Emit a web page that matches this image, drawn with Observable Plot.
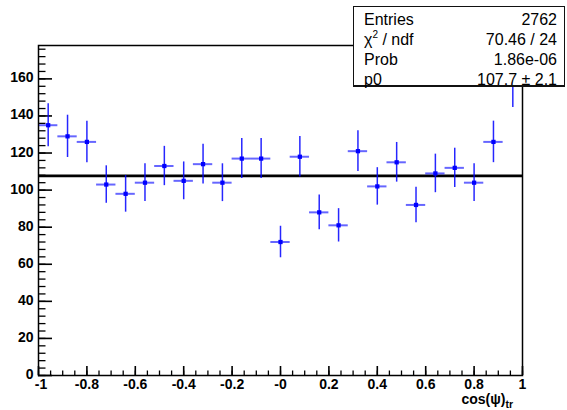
<!DOCTYPE html>
<html>
<head>
<meta charset="utf-8">
<script src="https://cdn.jsdelivr.net/npm/d3@7"></script>
<script src="https://cdn.jsdelivr.net/npm/@observablehq/plot@0.6"></script>
<style>
  html, body { margin: 0; padding: 0; background: #fff; }
  #wrap { position: relative; width: 567px; height: 410px; overflow: hidden; }
  #stats {
    position: absolute; left: 353px; top: 6px; width: 212px; height: 81px;
    box-sizing: border-box; border: 1px solid #111; border-bottom-width: 2px;
    background: #fff; font-family: "Liberation Sans", Arial, sans-serif;
    font-size: 16px; line-height: 20px; padding: 3px 7px 0 10px; color: #000;
  }
  #stats .row { display: flex; justify-content: space-between; }
  #stats sup { font-size: 10px; line-height: 0; position: relative; top: -1px; }
</style>
</head>
<body>
<div id="wrap"></div>
<script>
// ---- data ----
const binEdges = [-1, -0.92, -0.84, -0.76, -0.68, -0.6, -0.52, -0.44, -0.36, -0.28, -0.2, -0.12, -0.04,
                  0.04, 0.12, 0.2, 0.28, 0.36, 0.44, 0.52, 0.6, 0.68, 0.76, 0.84, 0.92, 1];
const counts = [135, 129, 126, 103, 98, 104, 113, 105, 114, 104, 117, 117, 72,
                118, 88, 81, 121, 102, 115, 92, 109, 112, 104, 126, 157];
const errors = [11.6, 11.4, 11.2, 10.1, 9.9, 10.2, 10.6, 10.2, 10.7, 10.2, 10.8, 10.8, 8.5,
                10.9, 9.4, 9.0, 11.0, 10.1, 10.7, 9.6, 10.4, 10.6, 10.2, 11.2, 12.5];
const fitP0 = 107.7;
const xDomain = [-1, 1];
const yDomain = [0, 178];
const xTicks = [-1, -0.8, -0.6, -0.4, -0.2, 0, 0.2, 0.4, 0.6, 0.8, 1];
const xTickLabels = ["-1", "-0.8", "-0.6", "-0.4", "-0.2", "-0", "0.2", "0.4", "0.6", "0.8", "1"];
const yTicks = [0, 20, 40, 60, 80, 100, 120, 140, 160];
const yTickLabels = ["0", "20", "40", "60", "80", "100", "120", "140", "160"];
const statLabels = ["Entries", "χ<sup>2</sup> / ndf", "Prob", "p0"];
const statValues = ["2762", "70.46 / 24", "1.86e-06", "107.7 ± 2.1"];
const xTitle = "cos(ψ)";
const xTitleSub = "tr";

// ---- derived table ----
const data = counts.map((c, i) => ({
  lo: binEdges[i], hi: binEdges[i + 1],
  center: (binEdges[i] + binEdges[i + 1]) / 2,
  count: c, err: errors[i]
}));
const xMinor = d3.range(-1, 1.0001, 0.05).map(v => +v.toFixed(2));
const yMinor = d3.range(0, 178, 4);

const font = "'Liberation Sans', Arial, sans-serif";
const fmtX = d => xTickLabels[xTicks.indexOf(d)];

const chart = Plot.plot({
  width: 567, height: 410,
  marginLeft: 38, marginRight: 45, marginTop: 45, marginBottom: 35,
  style: { fontFamily: font, fontSize: "14px", fontWeight: "bold", background: "#fff", color: "#000" },
  x: { domain: xDomain, axis: null },
  y: { domain: yDomain, axis: null },
  marks: [
    // minor ticks (drawn inward)
    Plot.axisY(yMinor, { tickSize: 7.5, dx: 7.5, fill: "none", label: null, strokeWidth: 1.3 }),
    Plot.axisX(xMinor, { tickSize: 4.5, dy: -4.5, fill: "none", label: null, strokeWidth: 1.3 }),
    // major ticks
    Plot.axisY(yTicks, { tickSize: 14, dx: 14, fill: "none", label: null, strokeWidth: 1.6 }),
    Plot.axisX(xTicks, { tickSize: 9, dy: -9, fill: "none", label: null, strokeWidth: 1.6 }),
    // tick labels
    Plot.axisY(yTicks, { tickSize: 0, tickPadding: 5, dy: -1, label: null,
      tickFormat: d => yTickLabels[yTicks.indexOf(d)] }),
    Plot.axisX(xTicks.slice(0, 1), { tickSize: 0, tickPadding: 4, dx: 2.5, label: null, tickFormat: fmtX }),
    Plot.axisX(xTicks.slice(1), { tickSize: 0, tickPadding: 4, label: null, tickFormat: fmtX }),
    // fit line
    Plot.ruleY([fitP0], { stroke: "#000", strokeWidth: 2.6 }),
    // horizontal bin-width bars
    Plot.ruleY(data, { y: "count", x1: "lo", x2: "hi", stroke: "blue", strokeOpacity: 0.6, strokeWidth: 2 }),
    // vertical error bars
    Plot.ruleX(data, { x: "center", y1: d => d.count - d.err, y2: d => d.count + d.err,
      stroke: "blue", strokeOpacity: 0.85, strokeWidth: 1.5 }),
    // markers
    Plot.dot(data, { x: "center", y: "count", symbol: "square", r: 2.4, fill: "blue", stroke: "none" }),
    Plot.frame({ stroke: "#000", strokeWidth: 1.5 })
  ]
});

const wrap = document.getElementById("wrap");
wrap.appendChild(chart);

// axis title with subscript, anchored at right end of x scale
const xs = chart.scale("x");
const ys = chart.scale("y");
const svg = d3.select(chart);
const t = svg.append("text")
  .attr("x", xs.apply(xDomain[1]) - 9)
  .attr("y", ys.apply(yDomain[0]) + 29)
  .attr("text-anchor", "end")
  .attr("font-family", font)
  .attr("font-weight", "bold")
  .attr("font-size", 14)
  .attr("fill", "#000");
t.append("tspan").text(xTitle);
t.append("tspan").attr("font-size", 10.5).attr("dy", 4).text(xTitleSub);

// stats box
const stats = document.createElement("div");
stats.id = "stats";
stats.innerHTML = statLabels.map((l, i) =>
  `<div class="row"><span>${l}</span><span>${statValues[i]}</span></div>`).join("");
wrap.appendChild(stats);
</script>
</body>
</html>
